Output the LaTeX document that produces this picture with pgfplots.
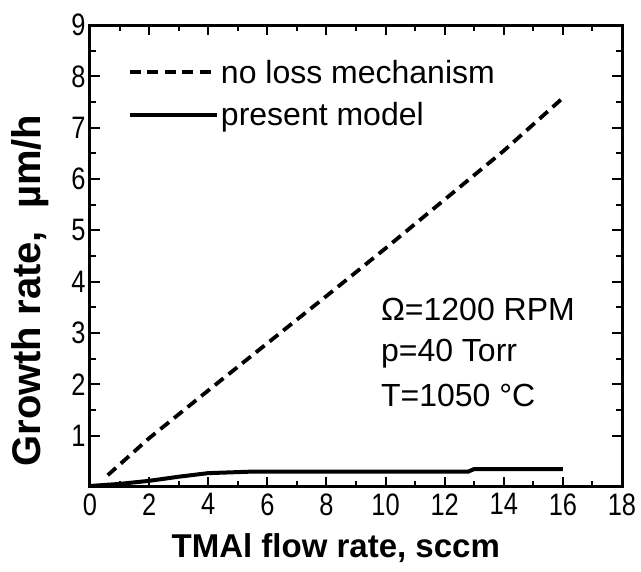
\documentclass[border=0pt]{standalone}
\usepackage{pgfplots}
\pgfplotsset{compat=1.18}
\usepackage{fontspec}
\setmainfont{Liberation Sans}
\newfontfamily\tickfont[FakeStretch=0.82]{Liberation Sans}
\begin{document}
\begin{tikzpicture}
% fixed page frame: axis at (0,0), 532pt x 462pt
\path[use as bounding box] (-90pt,-85pt) rectangle (551pt,487pt);
\begin{axis}[
  at={(0pt,0pt)}, anchor=south west,
  scale only axis, width=532pt, height=462pt,
  xmin=0, xmax=18, ymin=0, ymax=9,
  xtick={0,2,...,18}, ytick={1,2,...,9},
  minor x tick num=1, minor y tick num=1,
  tick align=inside, major tick length=10pt, minor tick length=6pt,
  every tick/.style={line width=2pt, black},
  axis line style={line width=3pt},
  /pgf/number format/assume math mode=true,
  tick label style={font=\tickfont\fontsize{31}{31}\selectfont},
  xticklabel style={yshift=-3pt},
  yticklabel style={xshift=-1pt},
  xlabel={\bfseries TMAl flow rate, sccm},
  ylabel={\bfseries Growth rate,\ \ µm/h},
  xlabel style={font=\fontsize{33}{33}\selectfont,
    at={(axis description cs:0.462,-0.132)}, anchor=center},
  ylabel style={font=\fontsize{40}{40}\selectfont,
    at={(axis description cs:-0.113,0.425)}, anchor=center},
  legend style={at={(axis description cs:0.071,0.929)}, anchor=north west,
    draw=none, fill=none, font=\fontsize{32}{32}\selectfont,
    row sep=14pt, inner sep=0pt},
  legend cell align=left,
  legend image code/.code={\draw[#1] (0pt,0pt) -- (87pt,0pt);},
]
\addplot[black, line width=3.8pt, dash pattern=on 11pt off 6.5pt] coordinates {
  (0.6,0.23) (2,0.95) (4,1.88) (6,2.8) (8,3.72) (10,4.65) (12,5.6) (14,6.55) (16,7.58)
};
\addlegendentry{no loss mechanism}
\addplot[black, line width=4pt] coordinates {
  (0,0.02) (1,0.06) (2,0.12) (3,0.2) (4,0.27) (5.5,0.3) (12.8,0.3) (13,0.35) (16,0.35)
};
\addlegendentry{present model}
\node[anchor=base west, inner sep=0pt, font=\fontsize{32}{32}\selectfont] at (axis cs:9.84,3.25) {Ω=1200 RPM};
\node[anchor=base west, inner sep=0pt, font=\fontsize{32}{32}\selectfont] at (axis cs:9.84,2.44) {p=40 Torr};
\node[anchor=base west, inner sep=0pt, font=\fontsize{32}{32}\selectfont] at (axis cs:9.84,1.56) {T=1050 °C};
\end{axis}
\end{tikzpicture}
\end{document}
